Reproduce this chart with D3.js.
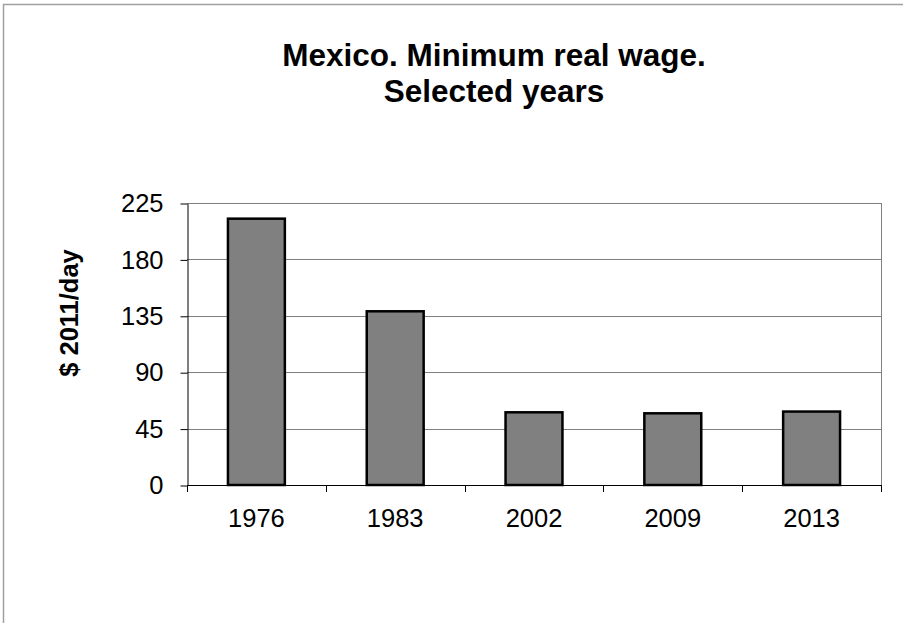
<!DOCTYPE html>
<html>
<head>
<meta charset="utf-8">
<script src="https://cdn.jsdelivr.net/npm/d3@7"></script>
<style>
  body { margin: 0; background: #fff; }
  svg { display: block; }
  text { font-family: "Liberation Sans", Arial, sans-serif; fill: #000; }
</style>
</head>
<body>
<svg id="chart" width="903" height="623"></svg>
<script>
// data
const years = ['1976', '1983', '2002', '2009', '2013']
const wage = [212.5, 138.6, 58.0, 57.2, 58.6]
const yTicks = [0, 45, 90, 135, 180, 225]
const titleLines = ['Mexico. Minimum real wage.', 'Selected years']
const yLabel = '$ 2011/day'

const svg = d3.select('#chart')
const plot = { left: 187, right: 881, top: 203, bottom: 485 }
const font = '"Liberation Sans", Arial, sans-serif'

// outer chart frame, only top and left edges are inside the picture
svg.append('path')
    .attr('d', 'M3.5,623V4.5H903')
    .attr('fill', 'none')
    .attr('stroke', '#a0a0a0')
    .attr('stroke-width', 1.5)

const x = d3.scaleBand()
    .domain(years)
    .range([plot.left, plot.right])
    .paddingInner(0.59)
    .paddingOuter(0.295)

const y = d3.scaleLinear()
    .domain([0, 225])
    .range([plot.bottom, plot.top])

// gridlines
svg.append('g')
    .selectAll('line')
    .data(yTicks.filter(d => d > 0))
    .join('line')
        .attr('x1', plot.left)
        .attr('x2', plot.right)
        .attr('y1', d => Math.round(y(d)) + 0.5)
        .attr('y2', d => Math.round(y(d)) + 0.5)
        .attr('stroke', '#808080')

// right edge of the plot area
svg.append('line')
    .attr('x1', plot.right + 0.5)
    .attr('x2', plot.right + 0.5)
    .attr('y1', plot.top)
    .attr('y2', plot.bottom)
    .attr('stroke', '#808080')

// bars
svg.append('g')
    .selectAll('rect')
    .data(years)
    .join('rect')
        .attr('x', d => x(d))
        .attr('y', (d, i) => y(wage[i]))
        .attr('width', x.bandwidth())
        .attr('height', (d, i) => y(0) - y(wage[i]))
        .attr('fill', '#808080')
        .attr('stroke', '#000')
        .attr('stroke-width', 2.5)

// y axis
const yAxis = d3.axisLeft(y)
    .tickValues(yTicks)
    .tickSize(7)
    .tickPadding(17)
    .tickSizeOuter(0)

svg.append('g')
    .attr('transform', `translate(${plot.left + 0.5}, 0.5)`)
    .call(yAxis)
    .call(g => g.selectAll('text').attr('font-size', 25.5).attr('font-family', font))
    .call(g => g.select('.domain').attr('stroke', '#000'))
    .call(g => g.selectAll('.tick line').attr('stroke', '#000'))

// x axis: line plus ticks between categories
const boundaries = d3.range(years.length + 1).map(i => plot.left + i * x.step())
svg.append('line')
    .attr('x1', plot.left)
    .attr('x2', plot.right + 1)
    .attr('y1', plot.bottom + 0.5)
    .attr('y2', plot.bottom + 0.5)
    .attr('stroke', '#000')

svg.append('g')
    .selectAll('line')
    .data(boundaries)
    .join('line')
        .attr('x1', d => Math.round(d) + 0.5)
        .attr('x2', d => Math.round(d) + 0.5)
        .attr('y1', plot.bottom)
        .attr('y2', plot.bottom + 7)
        .attr('stroke', '#000')

svg.append('g')
    .selectAll('text')
    .data(years)
    .join('text')
        .attr('x', d => x(d) + x.bandwidth() / 2)
        .attr('y', 527)
        .attr('text-anchor', 'middle')
        .attr('font-size', 25.5)
        .text(d => d)

// title
svg.append('text')
    .attr('text-anchor', 'middle')
    .attr('font-size', 31.5)
    .attr('font-weight', 'bold')
    .selectAll('tspan')
    .data(titleLines)
    .join('tspan')
        .attr('x', 494)
        .attr('y', (d, i) => 66 + i * 36)
        .text(d => d)

// y axis title
svg.append('text')
    .attr('transform', 'translate(78, 313) rotate(-90)')
    .attr('text-anchor', 'middle')
    .attr('font-size', 25.5)
    .attr('font-weight', 'bold')
    .text(yLabel)
</script>
</body>
</html>
